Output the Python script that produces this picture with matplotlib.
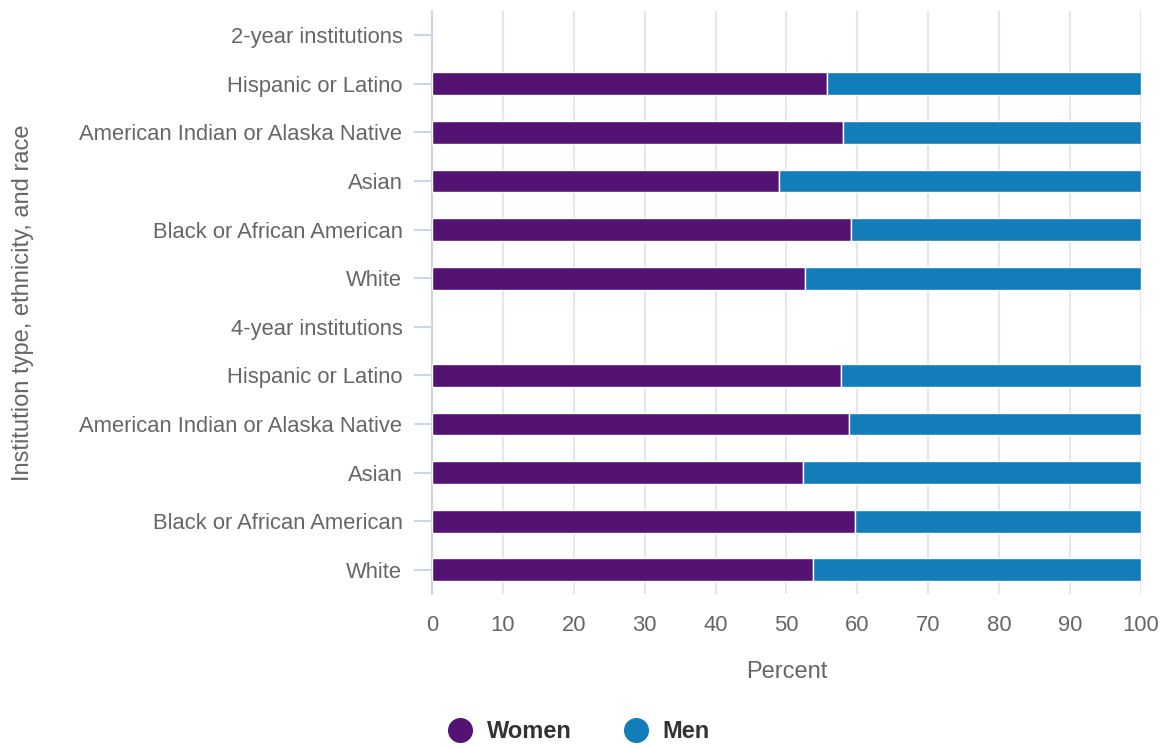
import matplotlib.pyplot as plt
import matplotlib.lines as mlines
import numpy as np

plt.rcParams['font.family'] = ['Liberation Sans', 'DejaVu Sans']

categories = ['2-year institutions', 'Hispanic or Latino', 'American Indian or Alaska Native',
              'Asian', 'Black or African American', 'White',
              '4-year institutions', 'Hispanic or Latino', 'American Indian or Alaska Native',
              'Asian', 'Black or African American', 'White']
women = [np.nan, 55.7, 58.0, 48.9, 59.1, 52.6, np.nan, 57.7, 58.8, 52.3, 59.7, 53.7]
men = [np.nan, 44.3, 42.0, 51.1, 40.9, 47.4, np.nan, 42.3, 41.2, 47.7, 40.3, 46.3]
x_ticks = [0, 10, 20, 30, 40, 50, 60, 70, 80, 90, 100]

women_color = '#541272'
men_color = '#127db8'
text_color = '#666666'

fig = plt.figure(figsize=(11.65, 7.47), dpi=100)
ax = fig.add_axes([0.3708, 0.2048, 0.6086, 0.7805])

y = np.arange(len(categories))
ax.barh(y, women, height=0.47, color=women_color, edgecolor='white', linewidth=1, zorder=3)
ax.barh(y, men, left=women, height=0.47, color=men_color, edgecolor='white', linewidth=1, zorder=3)

ax.set_ylim(len(categories) - 0.5, -0.5)
ax.set_xlim(0, 100)
ax.set_yticks(y)
ax.set_yticklabels(categories)
ax.set_xticks(x_ticks)

ax.grid(axis='x', color='#e6e6e6', linewidth=1.5, zorder=0)
ax.set_axisbelow(True)
for s in ['top', 'right', 'bottom']:
    ax.spines[s].set_visible(False)
ax.spines['left'].set_color('#ccd6eb')
ax.spines['left'].set_linewidth(1.5)

ax.tick_params(axis='y', length=13, width=1.5, color='#ccd6eb', labelcolor=text_color,
               labelsize=15.8, pad=8.3)
ax.tick_params(axis='x', length=0, labelcolor=text_color, labelsize=15.8, pad=15)

ax.set_xlabel('Percent', fontsize=17, color=text_color, labelpad=18)
ax.set_ylabel('Institution type, ethnicity, and race', fontsize=17, color=text_color, labelpad=32.5)

handles = [mlines.Line2D([], [], color=women_color, marker='o', linestyle='None', markersize=17),
           mlines.Line2D([], [], color=men_color, marker='o', linestyle='None', markersize=17)]
leg = fig.legend(handles, ['Women', 'Men'], loc='center', bbox_to_anchor=(0.4918, 0.021),
                 ncol=2, frameon=False, handletextpad=0.14, columnspacing=1.72,
                 prop={'weight': 'bold', 'size': 17})
for t in leg.get_texts():
    t.set_color('#333333')

fig.savefig('out.png', dpi=100)
